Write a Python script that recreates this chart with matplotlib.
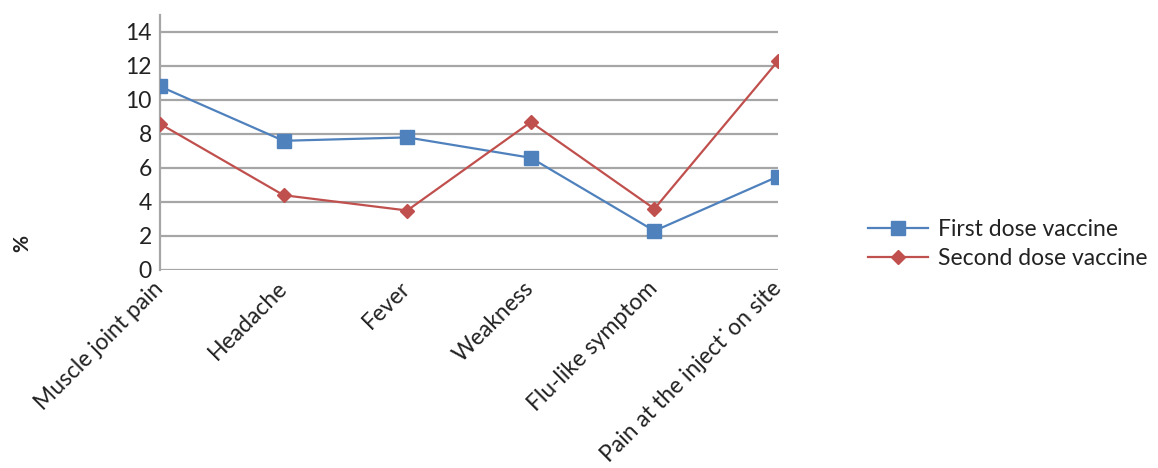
import matplotlib
matplotlib.use("Agg")
import matplotlib.pyplot as plt

categories = ["Muscle joint pain", "Headache", "Fever", "Weakness",
              "Flu-like symptom", "Pain at the inject\u02D9on site"]
first_dose = [10.8, 7.6, 7.8, 6.6, 2.3, 5.5]
second_dose = [8.6, 4.4, 3.5, 8.7, 3.6, 12.3]
series_names = ["First dose vaccine", "Second dose vaccine"]
y_ticks = [0, 2, 4, 6, 8, 10, 12, 14]

plt.rcParams["font.family"] = ["Lato", "DejaVu Sans"]
text_color = "#222222"
grid_color = "#A6A6A6"
fs = 16.5

fig = plt.figure(figsize=(11.58, 4.68), dpi=100)
ax = fig.add_axes([160 / 1158, 1 - 270 / 468, 618 / 1158, 255 / 468])

x = list(range(len(categories)))
ax.plot(x, first_dose, color="#4F81BD", lw=1.6, marker="s", ms=9.5,
        markeredgecolor="#4F81BD", label=series_names[0], zorder=3)
ax.plot(x, second_dose, color="#C0504D", lw=1.6, marker="D", ms=7.5,
        markeredgecolor="#C0504D", label=series_names[1], zorder=3)

ax.set_xlim(0, len(categories) - 1)
ax.set_ylim(0, 15)
ax.set_yticks(y_ticks)
ax.yaxis.grid(True, color=grid_color, lw=1.6)
ax.set_axisbelow(True)
for side in ("top", "right", "bottom"):
    ax.spines[side].set_visible(False)
ax.spines["left"].set_color(grid_color)
ax.spines["left"].set_linewidth(1.6)
ax.tick_params(axis="both", length=0, labelsize=fs, colors=text_color)
ax.tick_params(axis="y", pad=6)
ax.tick_params(axis="x", pad=11)

ax.set_xticks(x)
ax.set_xticklabels(categories, rotation=45, ha="right",
                   rotation_mode="anchor", va="center")

fig.text(22 / 1158, 1 - 243 / 468, "%", rotation=90, fontsize=15,
         fontweight="bold", ha="center", va="center", color=text_color)

leg = fig.legend(loc="center left", bbox_to_anchor=(868 / 1158, 1 - 244 / 468),
                 frameon=False, fontsize=fs, handlelength=2.6, borderpad=0,
                 borderaxespad=0, labelspacing=0.32, handletextpad=0.45)
for t in leg.get_texts():
    t.set_color(text_color)

fig.savefig("out.png", dpi=100, facecolor="white")
